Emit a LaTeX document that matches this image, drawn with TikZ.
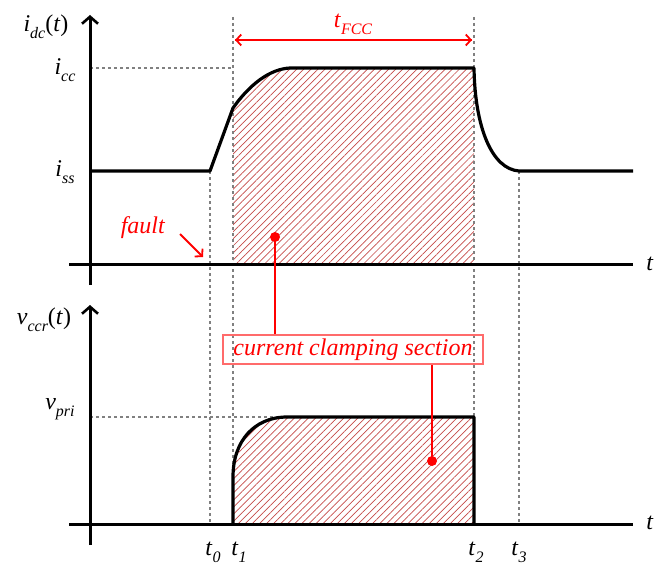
\documentclass[tikz,border=0pt]{standalone}
\usepackage{fontspec}
\setmainfont{Liberation Serif}
\usetikzlibrary{arrows.meta,patterns.meta}
\definecolor{hatchred}{HTML}{C44A48}
\definecolor{boxred}{HTML}{FF6B6B}
\definecolor{dashgray}{HTML}{808080}
\newcommand\subl[2]{\textit{#1}\raisebox{-0.28em}{\fontsize{16}{16}\selectfont\itshape #2}}
\begin{document}
\begin{tikzpicture}[x=1pt,y=-1pt,
  axis/.style={line width=3pt,black},
  yaxis/.style={axis,-{Straight Barb[length=7pt,width=16pt,line width=2.6pt]}},
  curve/.style={line width=3.2pt,black,line join=round},
  guide/.style={dashgray,line width=1.6pt,dash pattern=on 3pt off 3pt},
  hatch/.style={pattern={Lines[angle=45,distance=5pt,line width=0.7pt]},pattern color=hatchred},
  redline/.style={red,line width=2pt},
  redarrow/.style={red,line width=2pt,-{Straight Barb[length=5pt,width=11pt,line width=1.8pt]}},
  lbl/.style={font=\fontsize{24}{24}\selectfont,inner sep=0pt},
  rlbl/.style={lbl,text=red},
  dot/.style={circle,fill=red,inner sep=0pt,minimum size=10pt}
]
\useasboundingbox (0,0) rectangle (667,578);
% hatched regions
\fill[hatch] (233,264) -- (233,108) .. controls (250,84) and (270,69) .. (290,68) -- (474,68) -- (474,264) -- cycle;
\fill[hatch] (233,524) -- (233,477) .. controls (233,440) and (255,418) .. (285,417) -- (474,417) -- (474,524) -- cycle;
% guides
\coordinate (g1t) at (233,17); \coordinate (g1b) at (233,524);
\coordinate (g2t) at (474,17); \coordinate (g2b) at (474,417);
\coordinate (g0t) at (210,171); \coordinate (g0b) at (210,522);
\coordinate (g3t) at (519,171); \coordinate (g3b) at (519,522);
\draw[guide] (g1t) -- (g1b);
\draw[guide] (g2t) -- (g2b);
\draw[guide] (g0t) -- (g0b);
\draw[guide] (g3t) -- (g3b);
\coordinate (hc0) at (90,68); \coordinate (hc1) at (233,68);
\draw[guide] (hc0) -- (hc1);
\coordinate (hv0) at (90,417); \coordinate (hv1) at (285,417);
\draw[guide] (hv0) -- (hv1);
% axes
\coordinate (ya0) at (90,285); \coordinate (ya1) at (90,15);
\coordinate (xa0) at (69,264); \coordinate (xa1) at (633,264);
\coordinate (yb0) at (90,545); \coordinate (yb1) at (90,305);
\coordinate (xb0) at (69,524); \coordinate (xb1) at (633,524);
\draw[yaxis] (ya0) -- (ya1);
\draw[axis] (xa0) -- (xa1);
\draw[yaxis] (yb0) -- (yb1);
\draw[axis] (xb0) -- (xb1);
% curves
\draw[curve] (90,171) -- (210,171) -- (233,108) .. controls (250,84) and (270,69) .. (290,68) -- (474,68)
  .. controls (475,128) and (492,169) .. (519,171) -- (633,171);
\draw[curve] (233,524) -- (233,477) .. controls (233,440) and (255,418) .. (285,417) -- (474,417) -- (474,524);
% labels
\node[lbl] (idc) at (46,27) {\subl{i}{dc}(\textit{t})};
\node[lbl] (icc) at (65,70) {\subl{i}{cc}};
\node[lbl] (iss) at (65,172) {\subl{i}{ss}};
\node[lbl] (vccr) at (44,320) {\subl{v}{ccr}(\textit{t})};
\node[lbl] (vpri) at (60,409) {\subl{v}{pri}};
\node[lbl] (ta) at (650,264) {\textit{t}};
\node[lbl] (tb) at (650,523) {\textit{t}};
\node[lbl] (t0) at (213,552) {\subl{t}{0}};
\node[lbl] (t1) at (239,552) {\subl{t}{1}};
\node[lbl] (t2) at (476,552) {\subl{t}{2}};
\node[lbl] (t3) at (519,552) {\subl{t}{3}};
% t_FCC
\node[rlbl] (tfcc) at (353,24) {\subl{t}{FCC}};
\coordinate (fa) at (235,40); \coordinate (fb) at (472,40);
\draw[redarrow] (fa) -- (fb);
\draw[redarrow] (fb) -- (fa);
% fault
\node[rlbl] (fault) at (143,228) {\textit{fault}};
\coordinate (fs) at (180,234); \coordinate (fe) at (203,257);
\draw[redarrow] (fs) -- (fe);
% clamping section
\node[draw=boxred,line width=1.3pt,font=\fontsize{24}{24}\selectfont\itshape,text=red,minimum width=260pt,minimum height=29pt,inner sep=0pt] (box) at (353,349.5) {current clamping section};
\node[dot] (d1) at (275,237) {};
\node[dot] (d2) at (432,461) {};
\draw[redline] (d1.center) -- (d1.center |- box.north);
\draw[redline] (d2.center) -- (d2.center |- box.south);
\end{tikzpicture}
\end{document}
